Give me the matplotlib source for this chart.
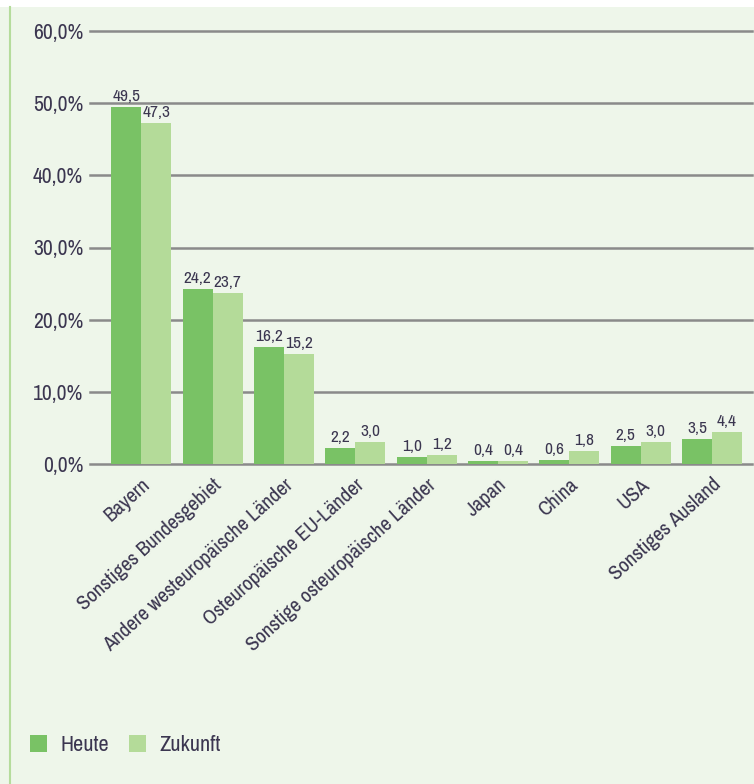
import matplotlib.pyplot as plt
import numpy as np
from matplotlib import font_manager
from matplotlib.patches import Rectangle
from matplotlib.lines import Line2D
from matplotlib.ticker import FuncFormatter

# Absatzregionen, Anteil in Prozent
regionen = ["Bayern", "Sonstiges Bundesgebiet", "Andere westeuropäische Länder",
            "Osteuropäische EU-Länder", "Sonstige osteuropäische Länder",
            "Japan", "China", "USA", "Sonstiges Ausland"]
heute = [49.5, 24.2, 16.2, 2.2, 1.0, 0.4, 0.6, 2.5, 3.5]
zukunft = [47.3, 23.7, 15.2, 3.0, 1.2, 0.4, 1.8, 3.0, 4.4]
y_ticks = [0, 10, 20, 30, 40, 50, 60]

# prefer a narrow face if one is installed
narrow = sorted({f.name for f in font_manager.fontManager.ttflist
                 if "Narrow" in f.name or "Condensed" in f.name})
FONT = narrow[:1] + ["DejaVu Sans"]
stretch = "normal" if narrow else "condensed"

TEXT = "#3b3650"
BG = "#eef6ea"
C_HEUTE = "#79c265"
C_ZUKUNFT = "#b4db99"

plt.rcParams["font.family"] = FONT
plt.rcParams["font.stretch"] = stretch

fig = plt.figure(figsize=(7.54, 7.84), dpi=100)
fig.patch.set_facecolor(BG)
# white strip on top and green rule on the left edge
fig.add_artist(Rectangle((0, 1 - 7 / 784), 1, 7 / 784, transform=fig.transFigure,
                         facecolor="white", edgecolor="none"))
fig.add_artist(Line2D([10 / 754, 10 / 754], [0, 1 - 7 / 784], transform=fig.transFigure,
                      color="#b5dc9c", lw=1.5))

ax = fig.add_axes([90 / 754, (784 - 464) / 784, (752 - 90) / 754, (464 - 31) / 784])
ax.set_facecolor(BG)

x = np.arange(len(regionen))
w = 0.42
b1 = ax.bar(x - w / 2, heute, w, color=C_HEUTE, label="Heute", zorder=3)
b2 = ax.bar(x + w / 2, zukunft, w, color=C_ZUKUNFT, label="Zukunft", zorder=3)

for bars, vals in ((b1, heute), (b2, zukunft)):
    for r, v in zip(bars, vals):
        ax.text(r.get_x() + r.get_width() / 2, v + 0.4, f"{v:.1f}".replace(".", ","),
                ha="center", va="bottom", fontsize=12.5, color=TEXT, zorder=4)

ax.set_xlim(-0.72, 8.56)
ax.set_ylim(0, 60)
ax.set_yticks(y_ticks)
ax.yaxis.set_major_formatter(FuncFormatter(lambda v, p: f"{v:.1f}%".replace(".", ",")))
for t in y_ticks:
    ax.axhline(t, color="#8a8a8a", lw=1.8, zorder=1, clip_on=False)

ax.set_xticks(x)
ax.set_xticklabels(regionen, rotation=42, ha="right", rotation_mode="anchor",
                   fontsize=15, color=TEXT)
ax.tick_params(axis="x", length=0, pad=8)
ax.tick_params(axis="y", length=0, pad=5, labelsize=15.5, labelcolor=TEXT)
for s in ax.spines.values():
    s.set_visible(False)

fig.legend(handles=[b1, b2], loc="center left", bbox_to_anchor=(30 / 754, 1 - 745 / 784),
           borderaxespad=0, borderpad=0, ncol=2, frameon=False, fontsize=16,
           handlelength=0.77, handleheight=0.77, columnspacing=0.9, handletextpad=0.6,
           labelcolor=TEXT)

fig.savefig("out.png", dpi=100, facecolor=BG)
